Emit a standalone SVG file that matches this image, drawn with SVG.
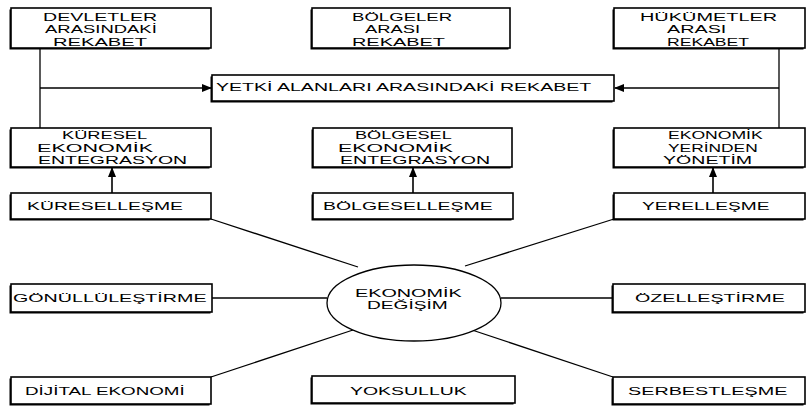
<svg xmlns="http://www.w3.org/2000/svg" width="808" height="407" viewBox="0 0 808 407">
<style>
.sh{fill:#000}
.bx{fill:#fff;stroke:#000;stroke-width:1.6}
.t{font-family:"Liberation Sans",Arial,sans-serif;font-size:11px;fill:#000}
.ln{stroke:#000;stroke-width:1.3;fill:none}
.ar{stroke:#000;stroke-width:1.6;fill:none}
</style>
<defs>
<marker id="ah" markerWidth="10" markerHeight="8" refX="9" refY="4" orient="auto" markerUnits="userSpaceOnUse">
<path d="M0,0 L10,4 L0,8 z" fill="#000"/>
</marker>
</defs>
<rect width="808" height="407" fill="#fff"/>
<g id="connectors">
<path class="ln" d="M40,48 V128"/>
<path class="ln" d="M40,88 H211" marker-end="url(#ah)"/>
<path class="ln" d="M779,48 V128"/>
<path class="ln" d="M779,88 H615" marker-end="url(#ah)"/>
<path class="ar" d="M112,193 V168" marker-end="url(#ah)"/>
<path class="ar" d="M413,193 V168" marker-end="url(#ah)"/>
<path class="ar" d="M713,193 V168" marker-end="url(#ah)"/>
<path class="ln" d="M211,219 L358,267"/>
<path class="ln" d="M614,219 L465,266"/>
<path class="ln" d="M212,298 H327"/>
<path class="ln" d="M501,298 H613"/>
<path class="ln" d="M211,377 L353,330"/>
<path class="ln" d="M613,377 L472,330"/>
</g>
<g id="devletler">
<rect class="sh" x="9.5" y="9.5" width="200" height="40"/>
<rect class="bx" x="11" y="8" width="200" height="40"/>
<text class="t" transform="translate(43,20.5) scale(1.78,1)">DEVLETLER</text>
<text class="t" transform="translate(45,33) scale(1.68,1)">ARASINDAKİ</text>
<text class="t" transform="translate(53,46) scale(1.83,1)">REKABET</text>
</g>
<g id="bolgeler">
<rect class="sh" x="310.5" y="9.5" width="198" height="40"/>
<rect class="bx" x="312" y="8" width="198" height="40"/>
<text class="t" transform="translate(352,20.5) scale(1.69,1)">BÖLGELER</text>
<text class="t" transform="translate(365,33) scale(1.67,1)">ARASI</text>
<text class="t" transform="translate(352,46) scale(1.81,1)">REKABET</text>
</g>
<g id="hukumetler">
<rect class="sh" x="612.5" y="9.5" width="191" height="40"/>
<rect class="bx" x="614" y="8" width="191" height="40"/>
<text class="t" transform="translate(640,20.5) scale(1.81,1)">HÜKÜMETLER</text>
<text class="t" transform="translate(667,33) scale(1.8,1)">ARASI</text>
<text class="t" transform="translate(667,46) scale(1.6,1)">REKABET</text>
</g>
<g id="yetki">
<rect class="sh" x="210.5" y="76.5" width="402" height="26"/>
<rect class="bx" x="212" y="75" width="402" height="26"/>
<text class="t" transform="translate(216,91) scale(1.78,1)">YETKİ ALANLARI ARASINDAKİ REKABET</text>
</g>
<g id="kuresel">
<rect class="sh" x="9.5" y="129.5" width="200" height="39"/>
<rect class="bx" x="11" y="128" width="200" height="39"/>
<text class="t" transform="translate(62,138.5) scale(1.66,1)">KÜRESEL</text>
<text class="t" transform="translate(37,151.5) scale(1.96,1)">EKONOMİK</text>
<text class="t" transform="translate(38,163.5) scale(1.77,1)">ENTEGRASYON</text>
</g>
<g id="bolgesel">
<rect class="sh" x="311.5" y="129.5" width="199" height="39"/>
<rect class="bx" x="313" y="128" width="199" height="39"/>
<text class="t" transform="translate(355,138.5) scale(1.65,1)">BÖLGESEL</text>
<text class="t" transform="translate(338,151.5) scale(1.94,1)">EKONOMİK</text>
<text class="t" transform="translate(340,163.5) scale(1.78,1)">ENTEGRASYON</text>
</g>
<g id="yerinden">
<rect class="sh" x="612.5" y="129.5" width="191" height="39"/>
<rect class="bx" x="614" y="128" width="191" height="39"/>
<text class="t" transform="translate(668,138.5) scale(1.6,1)">EKONOMİK</text>
<text class="t" transform="translate(668,151.5) scale(1.58,1)">YERİNDEN</text>
<text class="t" transform="translate(663,163.5) scale(1.78,1)">YÖNETİM</text>
</g>
<g id="kuresellesme">
<rect class="sh" x="9.5" y="194.5" width="200" height="26"/>
<rect class="bx" x="11" y="193" width="200" height="26"/>
<text class="t" transform="translate(27,210) scale(1.76,1)">KÜRESELLEŞME</text>
</g>
<g id="bolgesellesme">
<rect class="sh" x="311.5" y="194.5" width="200" height="26"/>
<rect class="bx" x="313" y="193" width="200" height="26"/>
<text class="t" transform="translate(323,210) scale(1.77,1)">BÖLGESELLEŞME</text>
</g>
<g id="yerellesme">
<rect class="sh" x="612.5" y="194.5" width="191" height="26"/>
<rect class="bx" x="614" y="193" width="191" height="26"/>
<text class="t" transform="translate(642,210) scale(1.74,1)">YERELLEŞME</text>
</g>
<g id="gonullulestirme">
<rect class="sh" x="9.5" y="285.5" width="201" height="28"/>
<rect class="bx" x="11" y="284" width="201" height="28"/>
<text class="t" transform="translate(13,302) scale(1.79,1)">GÖNÜLLÜLEŞTİRME</text>
</g>
<g id="degisim">
<ellipse cx="414" cy="303" rx="87" ry="38" fill="#fff" stroke="#000" stroke-width="1.3"/>
<text class="t" transform="translate(355,297) scale(1.8,1)">EKONOMİK</text>
<text class="t" transform="translate(367,309) scale(1.74,1)">DEĞİŞİM</text>
</g>
<g id="ozellestirme">
<rect class="sh" x="611.5" y="285.5" width="192" height="28"/>
<rect class="bx" x="613" y="284" width="192" height="28"/>
<text class="t" transform="translate(635,302) scale(1.79,1)">ÖZELLEŞTİRME</text>
</g>
<g id="dijital">
<rect class="sh" x="9.5" y="378.5" width="200" height="27"/>
<rect class="bx" x="11" y="377" width="200" height="27"/>
<text class="t" transform="translate(25,395) scale(1.71,1)">DİJİTAL EKONOMİ</text>
</g>
<g id="yoksulluk">
<rect class="sh" x="310.5" y="377.5" width="203" height="27"/>
<rect class="bx" x="312" y="376" width="203" height="27"/>
<text class="t" transform="translate(350,395) scale(1.77,1)">YOKSULLUK</text>
</g>
<g id="serbestlesme">
<rect class="sh" x="611.5" y="378.5" width="192" height="27"/>
<rect class="bx" x="613" y="377" width="192" height="27"/>
<text class="t" transform="translate(628,395) scale(1.8,1)">SERBESTLEŞME</text>
</g>
</svg>
